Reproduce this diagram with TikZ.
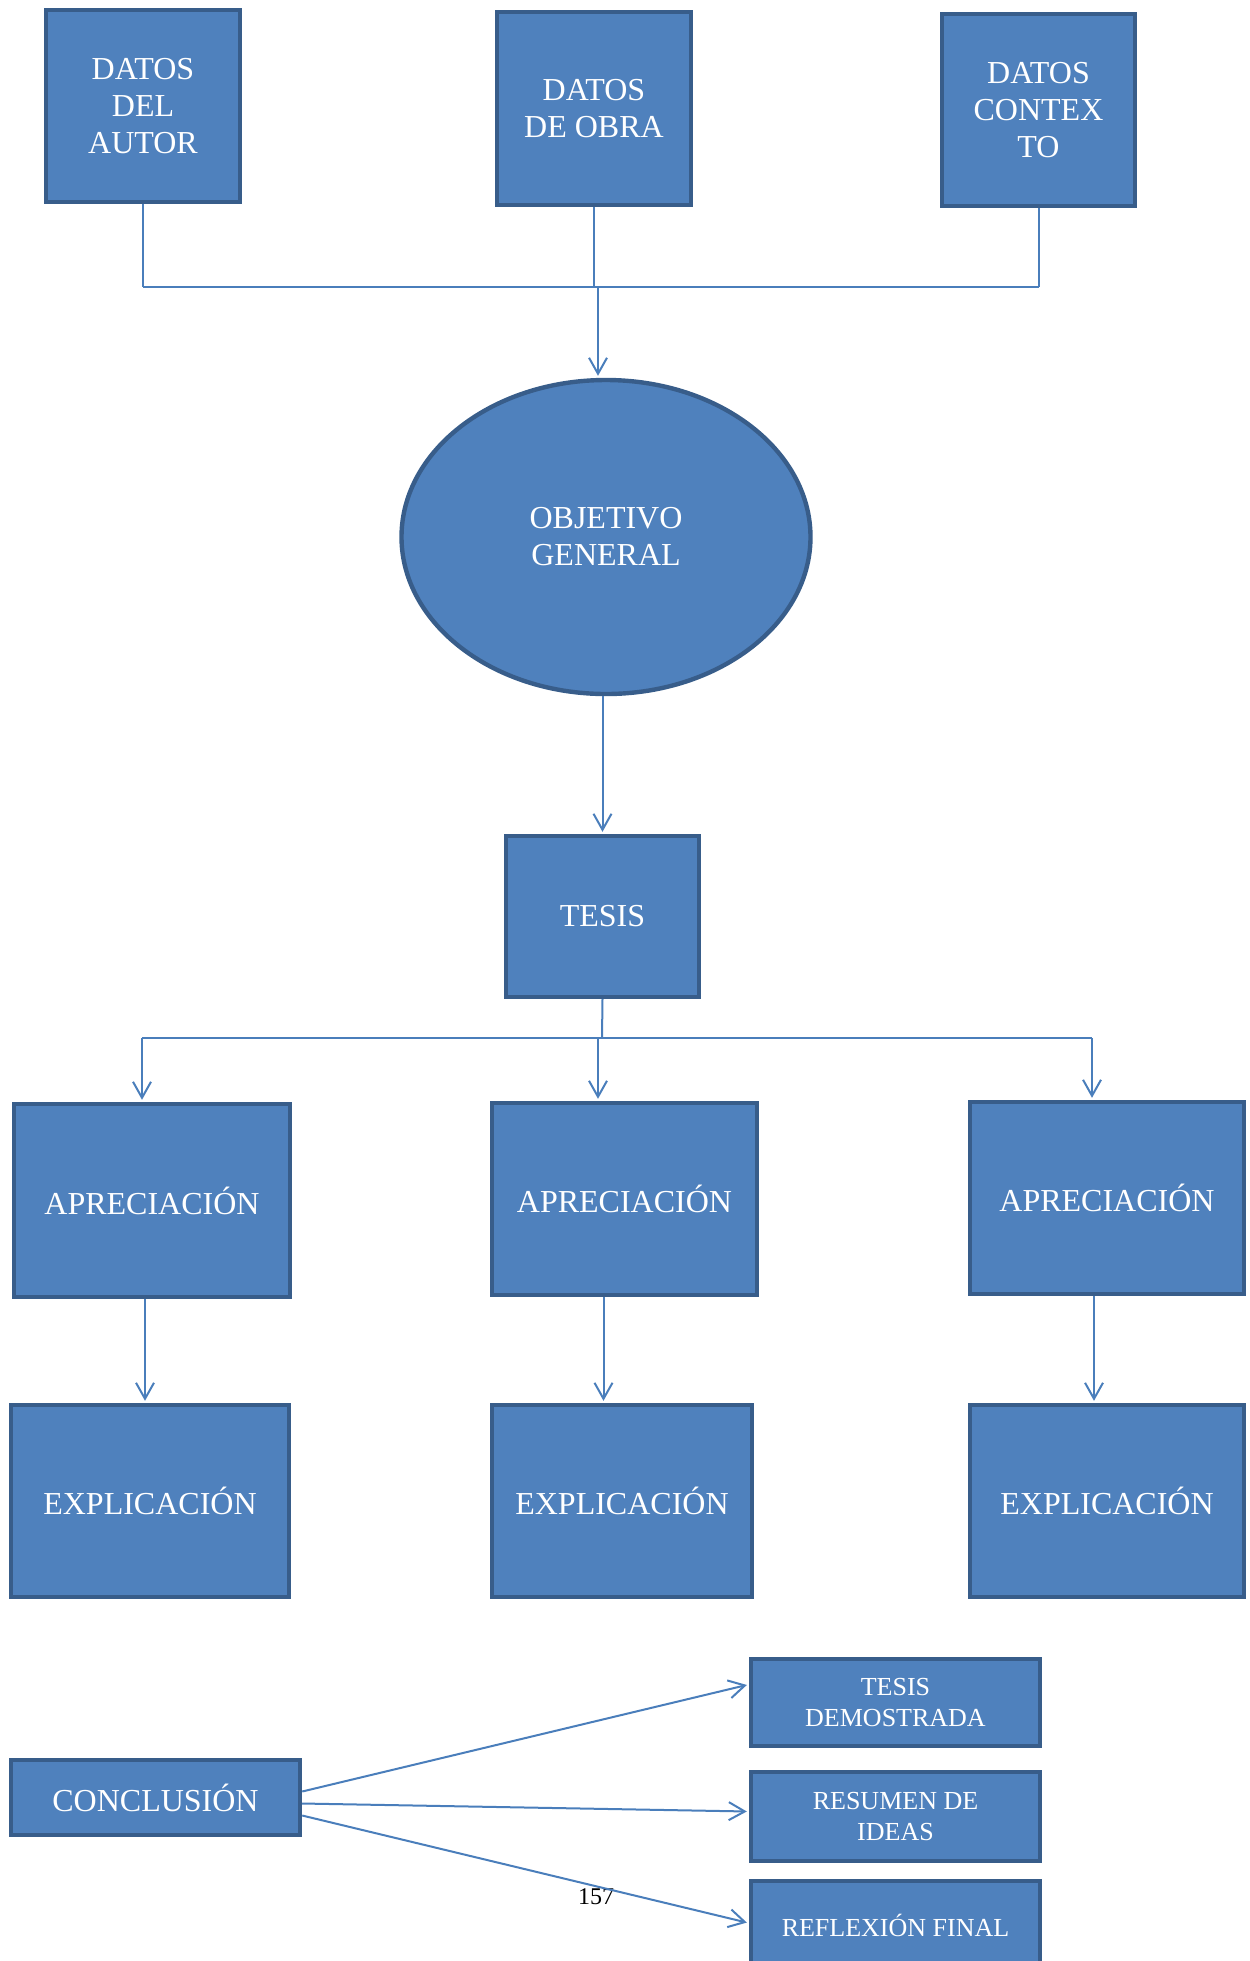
\documentclass[tikz,border=0pt]{standalone}
\usepackage{fontspec}
\setmainfont{Liberation Serif}
\usetikzlibrary{arrows, arrows.meta}
\usetikzlibrary{calc}
\usetikzlibrary{shapes.geometric}

\definecolor{boxfill}{RGB}{79,129,189}
\definecolor{boxline}{RGB}{56,93,138}
\definecolor{linkline}{RGB}{74,126,187}

\begin{document}
\begin{tikzpicture}[x=0.5pt, y=-0.5pt,
    bloque/.style={rectangle, draw=boxline, fill=boxfill, line width=2.2pt, text=white,
      align=center, inner sep=2pt, font=\fontsize{16}{18.5}\selectfont},
    bloquechico/.style={bloque, font=\fontsize{13}{15.5}\selectfont},
    ovalo/.style={ellipse, draw=boxline, fill=boxfill, line width=2.2pt, text=white,
      align=center, font=\fontsize{16}{18.5}\selectfont},
    enlace/.style={draw=linkline, line width=1pt},
    flecha/.style={enlace, -{Straight Barb[length=8pt, width=9pt]}, shorten >=1pt}]
    \useasboundingbox (0,0) rectangle (1249,1961);

    % datos
    \node[bloque, minimum width=97pt, minimum height=96pt] (autor) at (143,106) {DATOS\\DEL\\AUTOR};
    \node[bloque, minimum width=97pt, minimum height=96.5pt] (obra) at (594,108.5) {DATOS\\DE OBRA};
    \node[bloque, minimum width=96.5pt, minimum height=96pt] (contexto) at (1038.5,110) {DATOS\\CONTEX\\TO};

    \node[ovalo, minimum width=204.5pt, minimum height=157pt] (objetivo) at (606,537) {OBJETIVO\\GENERAL};
    \node[bloque, minimum width=96.5pt, minimum height=80.5pt] (tesis) at (602.5,916.5) {TESIS};

    % apreciaciones y explicaciones
    \node[bloque, minimum width=138pt, minimum height=96.5pt] (apre1) at (152,1200.5) {APRECIACIÓN};
    \node[bloque, minimum width=132.5pt, minimum height=96pt] (apre2) at (624.5,1199) {APRECIACIÓN};
    \node[bloque, minimum width=137pt, minimum height=96pt] (apre3) at (1107,1198) {APRECIACIÓN};
    \node[bloque, minimum width=139pt, minimum height=96pt] (expl1) at (150,1501) {EXPLICACIÓN};
    \node[bloque, minimum width=130pt, minimum height=96pt] (expl2) at (622,1501) {EXPLICACIÓN};
    \node[bloque, minimum width=137pt, minimum height=96pt] (expl3) at (1107,1501) {EXPLICACIÓN};

    % conclusion
    \node[bloque, minimum width=144.5pt, minimum height=37.5pt] (conclusion) at (155.5,1797.5) {CONCLUSIÓN};
    \node[bloquechico, minimum width=144.5pt, minimum height=43.5pt] (demostrada) at (895.5,1702.5) {TESIS\\DEMOSTRADA};
    \node[bloquechico, minimum width=144.5pt, minimum height=44.5pt] (resumen) at (895.5,1816.5) {RESUMEN DE\\IDEAS};
    \node[bloquechico, minimum width=144.5pt, minimum height=44pt] (reflexion) at (895.5,1925) {REFLEXIÓN FINAL};

    \node[font=\fontsize{12}{14}\selectfont] (pagina) at (596,1897) {157};

    \coordinate (hub) at (598,287);
    \coordinate (reparto) at (602,1038);
    \coordinate (r1) at (142,1038);
    \coordinate (r2) at (598,1038);
    \coordinate (r3) at (1092,1038);

    \draw[enlace] (autor.south) -- (autor.south |- hub);
    \draw[enlace] (obra.south) -- (obra.south |- hub);
    \draw[enlace] (contexto.south) -- (contexto.south |- hub);
    \draw[enlace] (autor.south |- hub) -- (contexto.south |- hub);
    \draw[flecha] (hub) -- (hub |- objetivo.north);
    \draw[flecha] (tesis.north |- objetivo.south) -- (tesis.north);

    \draw[enlace] (tesis.south) -- (reparto);
    \draw[enlace] (r1) -- (r3);
    \draw[flecha] (r1) -- (r1 |- apre1.north);
    \draw[flecha] (r2) -- (r2 |- apre2.north);
    \draw[flecha] (r3) -- (r3 |- apre3.north);

    \draw[flecha] ([xshift=-3.5pt]apre1.south) -- ([xshift=-3.5pt]apre1.south |- expl1.north);
    \draw[flecha] ([xshift=-10.5pt]apre2.south) -- ([xshift=-10.5pt]apre2.south |- expl2.north);
    \draw[flecha] ([xshift=-6.5pt]apre3.south) -- ([xshift=-6.5pt]apre3.south |- expl3.north);

    \draw[flecha] ([yshift=3pt]conclusion.east) -- ([yshift=9pt]demostrada.west);
    \draw[flecha] ([yshift=-3pt]conclusion.east) -- ([yshift=2.5pt]resumen.west);
    \draw[flecha] ([yshift=-9pt]conclusion.east) -- ([yshift=1pt]reflexion.west);
\end{tikzpicture}
\end{document}
